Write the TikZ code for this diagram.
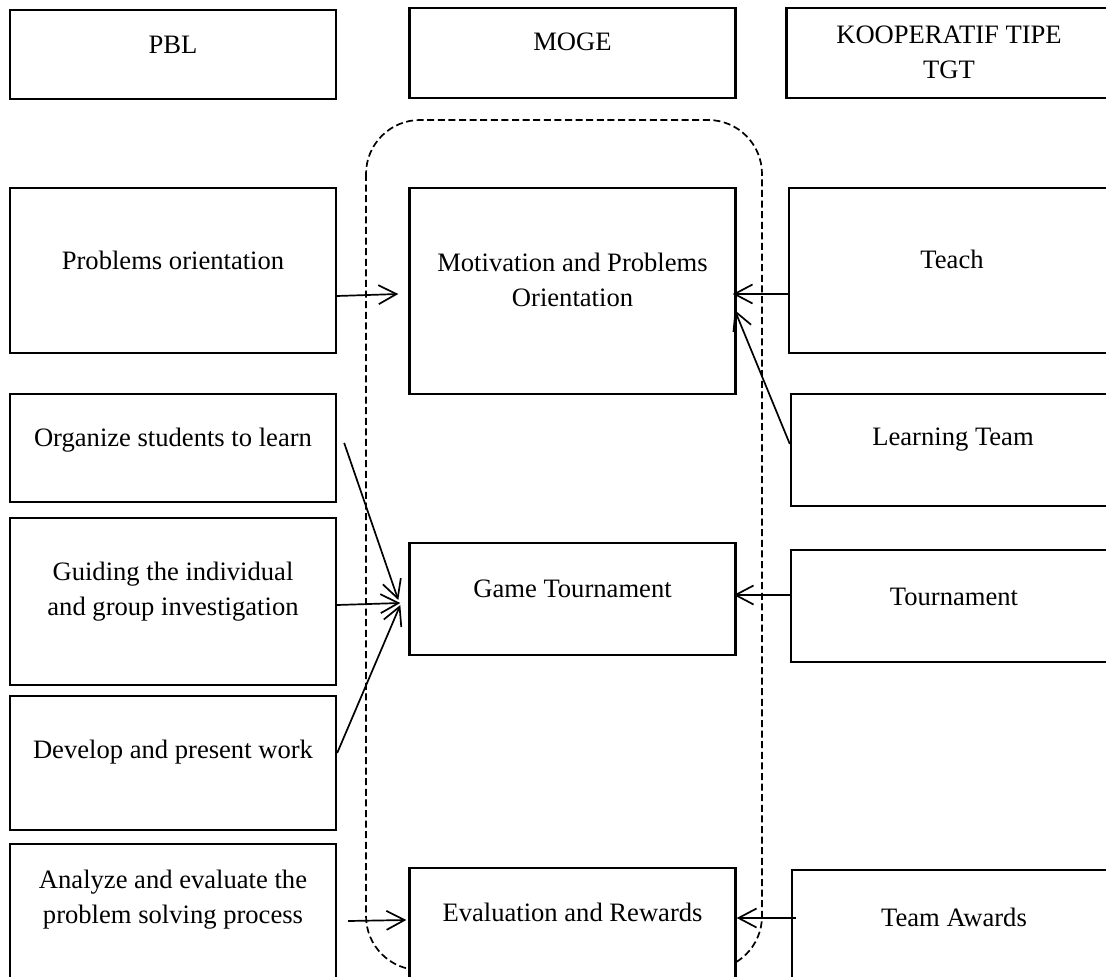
\documentclass[tikz,border=0pt]{standalone}
\usepackage{fontspec}
\setmainfont{Liberation Serif}
\usetikzlibrary{arrows.meta}

\tikzset{
  box/.style={draw, line width=1.2pt, fill=white, inner sep=0pt,
    minimum width=163pt},
  lbl/.style={align=center, inner sep=0pt,
    font=\fontsize{13.3}{17.5}\selectfont},
  link/.style={line width=0.85pt,
    -{Straight Barb[length=9pt,width=9.5pt]}},
}

\begin{document}
\begin{tikzpicture}[x=0.5pt, y=-0.5pt]

  % Page frame (pixel grid of the figure)
  \useasboundingbox (0,0) rectangle (1106,977);
  \clip (0,0) rectangle (1106,977);

  % Dashed frame round the MOGE column
  \draw[line width=0.85pt, dash pattern=on 3.5pt off 1.8pt, rounded corners=27pt]
    (366,120) rectangle (762,970);

  % Column headers
  \node[box, minimum height=44.5pt] (pbl)  at (173,54.5) {};
  \node[box, minimum height=45pt]   (moge) at (572.5,53) {};
  \node[box, minimum height=45pt]   (tgt)  at (949.5,53) {};

  % PBL steps
  \node[box, minimum height=82.5pt] (po)  at (173,270.5) {};
  \node[box, minimum height=54pt]   (org) at (173,448) {};
  \node[box, minimum height=83.5pt] (gui) at (173,601.5) {};
  \node[box, minimum height=67pt]   (dev) at (173,763) {};
  \node[box, minimum height=78pt]   (ana) at (173,922) {};

  % MOGE steps
  \node[box, minimum height=103pt] (mpo) at (572.5,291) {};
  \node[box, minimum height=56pt]  (gt)  at (572.5,599) {};
  \node[box, minimum height=66pt]  (er)  at (572.5,934) {};

  % TGT steps
  \node[box, minimum height=82.5pt] (teach) at (952,270.5) {};
  \node[box, minimum height=56pt]   (lt)    at (954,450) {};
  \node[box, minimum height=56pt]   (tour)  at (954,606) {};
  \node[box, minimum height=65pt]   (ta)    at (955,935) {};

  % Labels
  \node[lbl] (pbl-t)   at (173,45)    {PBL};
  \node[lbl] (moge-t)  at (572.5,42)  {MOGE};
  \node[lbl] (tgt-t)   at (949,52)    {KOOPERATIF TIPE\\TGT};
  \node[lbl] (po-t)    at (173,260)   {Problems orientation};
  \node[lbl] (org-t)   at (173,440)   {Organize students to learn};
  \node[lbl] (gui-t)   at (173,592)   {Guiding the individual\\and group investigation};
  \node[lbl] (dev-t)   at (173,752)   {Develop and present work};
  \node[lbl] (ana-t)   at (173,900)   {Analyze and evaluate the\\problem solving process};
  \node[lbl] (mpo-t)   at (572.5,280) {Motivation and Problems\\Orientation};
  \node[lbl] (gt-t)    at (572.5,589) {Game Tournament};
  \node[lbl] (er-t)    at (572.5,912) {Evaluation and Rewards};
  \node[lbl] (teach-t) at (952,259)   {Teach};
  \node[lbl] (lt-t)    at (953,440)   {Learning Team};
  \node[lbl] (tour-t)  at (954,597)   {Tournament};
  \node[lbl] (ta-t)    at (954,917)   {Team Awards};

  % Arrows into Motivation and Problems Orientation
  \draw[link] ([yshift=-12.75pt]po.east) -- ([xshift=-5pt,yshift=-1.5pt]mpo.west);
  \draw[link] ([yshift=-11.75pt]teach.west) -- ([xshift=-2pt,yshift=-1.5pt]mpo.east);
  \draw[link] ([yshift=3pt]lt.west) -- ([xshift=-1pt,yshift=-9.5pt]mpo.east);

  % Arrows into Game Tournament
  \draw[link] ([xshift=3.5pt,yshift=2.5pt]org.east) -- ([xshift=-5pt,yshift=-0.5pt]gt.west);
  \draw[link] ([yshift=-1.75pt]gui.east) -- ([xshift=-4pt,yshift=-2pt]gt.west);
  \draw[link] ([yshift=5pt]dev.east) -- ([xshift=-4pt,yshift=-3pt]gt.west);
  \draw[link] ([yshift=5.5pt]tour.west) -- ([xshift=-1.5pt,yshift=2pt]gt.east);

  % Arrows into Evaluation and Rewards
  \draw[link] ([xshift=5.5pt,yshift=0.5pt]ana.east) -- ([xshift=-1pt,yshift=7pt]er.west);
  \draw[link] ([xshift=2.5pt,yshift=8.5pt]ta.west) -- ([yshift=8pt]er.east);

\end{tikzpicture}
\end{document}
